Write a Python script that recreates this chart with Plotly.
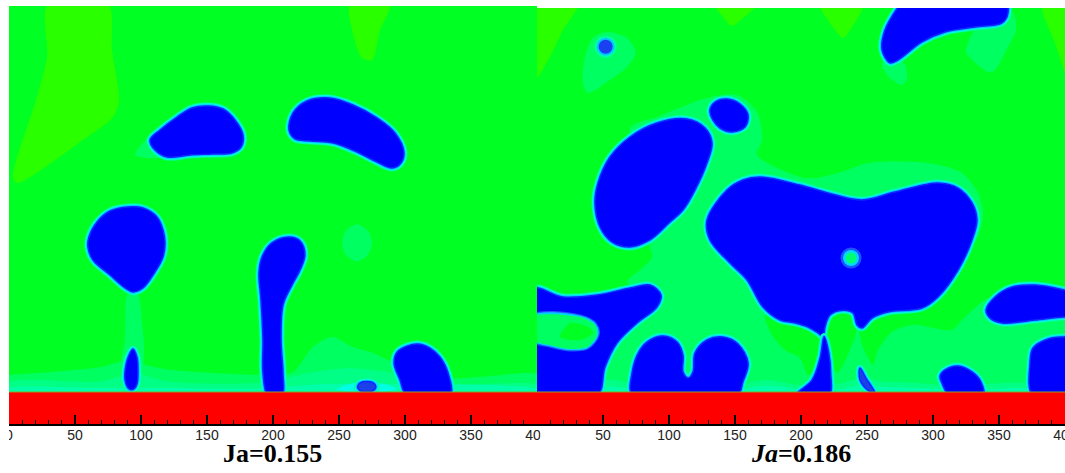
import plotly.graph_objects as go

# ---- axis labels ----
LEFT_TICKS = [0, 50, 100, 150, 200, 250, 300, 350, 400]
RIGHT_TICKS = [50, 100, 150, 200, 250, 300, 350, 400]
MINOR_TICKS = [v for v in range(0, 401, 10) if v % 50]
LEFT_TITLE = "<b>Ja=0.155</b>"
RIGHT_TITLE = "<b><i>Ja</i>=0.186</b>"

WALL_X = [0, 400, 400, 0, 0]
WALL_Y = [0, 0, -26, -26, 0]

# ---- left panel (Ja=0.155) : tinted regions, x / y ----
LD1_X = [29.5, 75, 78, 83.3, 78.8, 56, 6, 3, 21.2, 28.8]
LD1_Y = [294, 294, 259, 221.2, 208.3, 191, 158.3, 162.9, 223.5, 253.8]
LD2_X = [258.3, 288.6, 281, 275, 267.4, 260]
LD2_Y = [294, 294, 274, 251.5, 253, 274]

LL1_X = [95.5, 106.8, 114.4]
LL1_Y = [179.5, 193, 178]
LL2_X = [263.6, 272, 275, 272, 263.6, 255, 252.5, 255]
LL2_Y = [127, 122, 113, 104, 99, 104, 113, 122]
LL3_X = [90.2, 87.9, 85.6, 100.8, 100.8, 97]
LL3_Y = [75, 39.4, 19, 19, 52.3, 75]

LBA_X = [-2, 0, 70, 90, 105, 120, 190, 215, 230, 244.7, 260.6, 275.8, 292.4, 334, 356.8, 402, 402, -2]
LBA_Y = [13, 13, 19, 24, 20, 17, 13, 15, 34, 41.7, 34, 29.5, 22, 10.6, 11.4, 12.9, -1, -1]
LBB_X = [-2, 70, 95, 120, 190, 230, 257, 288, 334, 402, 402, -2]
LBB_Y = [7, 8, 14, 8, 7, 15, 18, 15, 6, 5, -1, -1]
LBC_X = [-2, 70, 120, 190, 240, 300, 402, 402, -2]
LBC_Y = [2.5, 3, 3, 2.5, 6, 6, 2, -1, -1]
LBD_X = [248, 258, 271, 284, 294, 284, 271, 258]
LBD_Y = [2, 6, 8, 6, 2, 0, -1, 0]

# ---- left panel : bubbles, x / y ----
L1_X = [106.8, 114.4, 127.3, 138.6, 150.8, 162.1, 171.2, 177.3, 175.8, 168.9, 154.5, 137.1, 119.7, 110.6]
L1_Y = [190.9, 198.5, 208.3, 215.2, 216.7, 214.4, 206.1, 194.7, 185.6, 181.1, 180.3, 179.5, 178, 183.3]
L2_X = [212.1, 215.2, 225.8, 243.2, 260.6, 278.8, 292.4, 299.2, 297, 290.2, 278.8, 263.6, 245.5, 228, 216.7]
L2_Y = [198.5, 211.4, 220.5, 222.7, 217.4, 207.6, 196.2, 181.8, 173.5, 169.7, 174.2, 181.8, 188.6, 190.2, 191.7]
L3_X = [90.2, 76.5, 66.7, 60.6, 59.8, 63.6, 76.5, 87.9, 93.9, 101.5, 110.6, 116.7, 118.2, 116.7, 112.1, 101.5]
L3_Y = [140.2, 137.1, 128.8, 117.4, 109.8, 100, 88.6, 78.8, 75.8, 78.8, 90.9, 102.3, 112.9, 122.7, 132.6, 139.4]
L4_X = [93.9, 96.9, 97.7, 97, 94.7, 90.9, 87.9, 88.6, 90.9]
L4_Y = [32.6, 26.5, 16.7, 6, 2.3, 2.3, 9, 20.5, 28]
L5_X = [196.2, 192.4, 192.4, 190.9, 189.4, 191.7, 199.2, 212.1, 220.5, 224.2, 220.5, 214.4, 207.6, 206.1, 207.6, 206.8]
L5_Y = [-3, 14.4, 39.4, 69.7, 90.2, 102.3, 112.9, 117.4, 114.4, 103.8, 92.4, 81, 65.9, 39.4, 14.4, -3]
L6_X = [301.5, 296.2, 291.7, 294.7, 309.1, 318.9, 326.5, 332.6, 334.1]
L6_Y = [-3, 9.1, 22, 31, 36.4, 33.3, 26.5, 14.4, -3]
L7_X = [264, 266, 271, 276, 278, 276, 271, 266]
L7_Y = [4, 7, 8, 7, 4, 1, 0, 1]

# ---- right panel (Ja=0.186) : tinted regions, x / y ----
RD1_X = [-2, 31, 19.7, 9.8, -2]
RD1_Y = [294, 294, 274.2, 253.8, 236]
RD2_X = [134.9, 166.7, 156, 147.7, 140.9]
RD2_Y = [294, 294, 283.3, 277.3, 284]
RD3_X = [214.4, 247, 235.6, 231.8, 225.8]
RD3_Y = [294, 294, 272, 268.2, 274.2]
RD4_X = [382.6, 402, 402, 392.4]
RD4_Y = [294, 294, 238.6, 264.4]

RL1_X = [53, 68.2, 74.7, 68.2, 53, 38.6, 34.8, 36.4, 42.4]
RL1_Y = [272.7, 268.2, 256.8, 246.2, 234.9, 226.5, 234, 253.8, 268.2]
RL2_X = [261.4, 265.9, 276.5, 280.3, 278]
RL2_Y = [249.3, 239.4, 232.6, 237.9, 249.3]
RL3_X = [326.5, 325, 341.7, 346.2, 356.8, 362.9, 360.6, 347, 331.8]
RL3_Y = [264.4, 257.6, 242.4, 243.2, 261.4, 274.2, 287.1, 281.8, 274.2]
RU_X = [70.5, 90.9, 128.8, 151.5, 166.7, 170.5, 166.7, 199.2, 210.6, 231, 250.8, 296.2, 322, 334.1, 337.9, 331.8, 275, 146.2, 115.9, 85.6, 78]
RU_Y = [200, 208.3, 222.7, 225, 212.1, 190.9, 179.5, 162.9, 162.1, 166.7, 173.5, 173.5, 165.9, 150.8, 135.6, 115.2, 107.6, 122.7, 107.6, 115.2, 160.6]
RLP_X = [85.6, 87.1, 78, 68.2, 85.6, 68.2, 40, 407, 407, 381, 372, 347, 337.1, 322, 314.4, 284.1, 268.9, 258.3, 254.6, 246.2, 243.2, 199.2, 153.8]
RLP_Y = [115.2, 102.3, 92.4, 83.3, 69.7, 47, -1, -1, 75.8, 81.8, 81, 73.5, 68.2, 54.5, 47, 50.8, 45.5, 31.8, 20.5, 35.6, 47, 84.9, 107.6]

RP1_X = [172.7, 178, 187.9, 199.2, 205.3, 210.6, 218.2, 212.9, 199.2, 184.1]
RP1_Y = [58.3, 43.2, 31.8, 25.8, 12.9, 16.7, 35.6, 44.7, 53, 56]
RP2_X = [220.5, 228, 237.1, 242.4, 237.1, 227.3, 222]
RP2_Y = [49.2, 60.6, 59.8, 49.2, 31.8, 14.4, 29.5]

RBA_X = [-2, 60, 75, 90, 150, 160, 175, 200, 228, 245, 262, 285, 310, 340, 360, 402, 402, -2]
RBA_Y = [3, 9, 4, 2, 3, 7, 9, 5, 6, 10, 8, 7, 5, 6, 7, 5, -1, -1]
RBB_X = [-2, 60, 75, 150, 160, 175, 200, 228, 245, 262, 285, 340, 360, 402, 402, -2]
RBB_Y = [1, 4, 2, 1, 3, 5, 2, 2, 5, 4, 3, 2, 3, 2, -1, -1]

# ---- right panel : bubbles, x / y ----
R2_X = [131, 134.9, 143.9, 153.8, 159.9, 157.6, 147.7, 138.6, 133.3]
R2_Y = [213.6, 219.7, 222, 218.2, 209.9, 200.8, 197, 200, 206]
R3_X = [113.6, 90.9, 70.5, 55.3, 46.2, 43.9, 47.7, 56.8, 70.5, 85.6, 100.8, 110.6, 119.7, 128.8, 132.6, 127.3]
R3_Y = [206.8, 203.8, 193.2, 178, 158.3, 143.2, 125, 113.6, 109.9, 115.2, 128.8, 137.9, 153, 173.5, 188.6, 200]
R4_X = [128.8, 143.9, 156, 168.9, 199.2, 220.5, 246.2, 271.2, 303.8, 319, 329.6, 333.3, 329.6, 319, 303.8, 291.7, 265.9, 253.8, 246.2, 242.4, 239.4, 231.8, 222, 218.2, 216.7, 212.9, 205.3, 195.5, 184.1, 171.2, 159.1, 146.2, 131]
R4_Y = [130.3, 153, 160.6, 162.9, 156.8, 150.8, 145.5, 151.5, 158.3, 154.5, 143.2, 130.3, 115.2, 92.4, 72, 63.6, 60.6, 56, 48.5, 50.8, 59.8, 62, 58.3, 49.2, 41.7, 44.7, 49.2, 52.3, 54.5, 64.4, 84.9, 97.7, 115.2]
R5_X = [217.5, 221, 222.5, 221, 195.5, 208.3, 214.5]
R5_Y = [42, 30, 14.4, -3, -3, 9, 26]
R6_X = [267.4, 261.4, 263.6, 273.5, 278.8, 354.6, 356.8, 352.3, 331.8, 309.1, 291.7, 273.5]
R6_Y = [249.3, 259.1, 274.2, 291.7, 298.5, 298.5, 287.1, 279.6, 276.5, 272.7, 265.2, 251.5]
R7_X = [-4, 19.7, 45.5, 70.5, 85.6, 93.9, 90.9, 75.8, 60.6, 51.5, 45.5, -4]
R7_Y = [78, 72, 73.5, 78.8, 81, 73.5, 64.4, 52.3, 37.1, 18.9, -3, -3]
R7C_X = [-4, 32.6, 43.9, 45.5, 37.9, 25, 9.8, -4]
R7C_Y = [56.8, 56.8, 50.8, 43.2, 34, 32.6, 35.6, 40]
R7P_X = [17.4, 25, 40.2, 42.4, 32.6]
R7P_Y = [41.7, 52.3, 48.5, 44.7, 39.4]
R8_X = [72.7, 72, 78, 85.6, 95.5, 106.1, 110.6, 110.6, 114.4, 118.2, 119.7, 128.8, 140.9, 152.3, 159.9, 156, 151.5]
R8_Y = [-3, 14.4, 31.8, 39.4, 42.4, 37.9, 28, 15.2, 10.6, 15.2, 29.5, 39.4, 41.7, 36.4, 22, 7.6, -3]
R9_X = [244.7, 249.2, 256, 251.5, 244.7]
R9_Y = [18.2, 10.6, -0.8, 0.8, 9.1]
R10_X = [306.8, 305.3, 309.1, 319, 329.6, 336.4, 337.9, 312.9]
R10_Y = [6.8, 12.1, 16.7, 19.7, 15.2, 7.6, -3, -3]
R11_X = [340.2, 347, 359.9, 377.3, 399.3, 407.6, 407.6, 399.3, 377.3, 352.3, 343.2]
R11_Y = [62.1, 72, 79.5, 81, 77.3, 75, 56, 56.8, 54.5, 52.3, 56]
R12_X = [375.8, 373.5, 375.8, 387.1, 399.3, 407.6, 407.6]
R12_Y = [-3, 22, 33.3, 40.2, 41.7, 41.7, -3]

# small round bubble and the small hole in the big bubble
DOT_X = [52]
DOT_Y = [261.6]
HOLE_X = [237.9]
HOLE_Y = [101.5]

# ---- colours ----
BG = "#00ff22"
DARK = "#2aff00"
LIGHT = "#00ff60"
BAND2 = "#00ff84"
BAND3 = "#00ffa8"
BAND4 = "#00ffe4"
BLUE = "#0000ff"
HALO = [(7, "#00ff90"), (5.5, "#00ffd8"), (3.5, "#00c8ff")]
EDGE = "#0c28ff"

fig = go.Figure()


def closed(v):
    return list(v) + [v[0]]


def region(x, y, color, xa, ya):
    fig.add_trace(go.Scatter(x=closed(x), y=closed(y), xaxis=xa, yaxis=ya, mode="lines", fill="toself",
                             fillcolor=color, line=dict(width=0, color=color, shape="spline", smoothing=0.8),
                             hoverinfo="skip", showlegend=False))


def bubble(x, y, xa, ya, core=BLUE, smooth=1.0):
    for w, c in HALO:
        fig.add_trace(go.Scatter(x=closed(x), y=closed(y), xaxis=xa, yaxis=ya, mode="lines",
                                 line=dict(width=w, color=c, shape="spline", smoothing=smooth),
                                 hoverinfo="skip", showlegend=False))
    fig.add_trace(go.Scatter(x=closed(x), y=closed(y), xaxis=xa, yaxis=ya, mode="lines", fill="toself",
                             fillcolor=core, line=dict(width=1.5, color=EDGE, shape="spline", smoothing=smooth),
                             hoverinfo="skip", showlegend=False))


def cutout(x, y, xa, ya):
    for w, c in [(5, "#1a55ff"), (2.5, "#00d0ff")]:
        fig.add_trace(go.Scatter(x=closed(x), y=closed(y), xaxis=xa, yaxis=ya, mode="lines",
                                 line=dict(width=w, color=c, shape="spline"), hoverinfo="skip", showlegend=False))
    region(x, y, LIGHT, xa, ya)


def wall(xa, ya):
    fig.add_trace(go.Scatter(x=WALL_X, y=WALL_Y, xaxis=xa, yaxis=ya, mode="lines", fill="toself",
                             fillcolor="#ff0000", line=dict(width=0, color="#ff0000"),
                             hoverinfo="skip", showlegend=False))
    fig.add_trace(go.Scatter(x=WALL_X[:2], y=WALL_Y[:2], xaxis=xa, yaxis=ya, mode="lines",
                             line=dict(width=1, color="#90a020"), hoverinfo="skip", showlegend=False))


def dots(x, y, sizes, xa, ya):
    for s, c in sizes:
        fig.add_trace(go.Scatter(x=x, y=y, xaxis=xa, yaxis=ya, mode="markers",
                                 marker=dict(size=s, color=c, line=dict(width=0)),
                                 hoverinfo="skip", showlegend=False))


# left panel
for rx, ry in [(LD1_X, LD1_Y), (LD2_X, LD2_Y)]:
    region(rx, ry, DARK, "x", "y")
for rx, ry in [(LL1_X, LL1_Y), (LL2_X, LL2_Y), (LL3_X, LL3_Y), (LBA_X, LBA_Y)]:
    region(rx, ry, LIGHT, "x", "y")
region(LBB_X, LBB_Y, BAND2, "x", "y")
region(LBC_X, LBC_Y, BAND3, "x", "y")
region(LBD_X, LBD_Y, BAND4, "x", "y")
for bx, by in [(L1_X, L1_Y), (L2_X, L2_Y), (L3_X, L3_Y), (L4_X, L4_Y), (L5_X, L5_Y), (L6_X, L6_Y)]:
    bubble(bx, by, "x", "y")
bubble(L7_X, L7_Y, "x", "y", core="#1c40e8")
wall("x", "y")

# right panel
for rx, ry in [(RD1_X, RD1_Y), (RD2_X, RD2_Y), (RD3_X, RD3_Y), (RD4_X, RD4_Y)]:
    region(rx, ry, DARK, "x2", "y2")
for rx, ry in [(RL1_X, RL1_Y), (RL2_X, RL2_Y), (RL3_X, RL3_Y), (RU_X, RU_Y), (RLP_X, RLP_Y)]:
    region(rx, ry, LIGHT, "x2", "y2")
for rx, ry in [(RP1_X, RP1_Y), (RP2_X, RP2_Y)]:
    region(rx, ry, BG, "x2", "y2")
region(RBA_X, RBA_Y, BAND2, "x2", "y2")
region(RBB_X, RBB_Y, BAND3, "x2", "y2")
for bx, by in [(R2_X, R2_Y), (R3_X, R3_Y), (R4_X, R4_Y), (R5_X, R5_Y), (R6_X, R6_Y), (R7_X, R7_Y),
               (R8_X, R8_Y), (R10_X, R10_Y), (R11_X, R11_Y), (R12_X, R12_Y)]:
    bubble(bx, by, "x2", "y2")
bubble(R9_X, R9_Y, "x2", "y2", core="#1c40e8")
cutout(R7C_X, R7C_Y, "x2", "y2")
region(R7P_X, R7P_Y, BG, "x2", "y2")
dots(DOT_X, DOT_Y, [(22, "#00ffa0"), (18, "#00c8ff"), (14, "#1a40f0")], "x2", "y2")
dots(HOLE_X, HOLE_Y, [(21, "#1a55ff"), (16, "#00d8ff"), (11, "#00ff70")], "x2", "y2")
wall("x2", "y2")

W, H = 1065, 473
PX = lambda p: p / W
PY = lambda p: 1 - p / H


def xaxis(dom, ticks):
    return dict(domain=dom, range=[0, 400], tickmode="array", tickvals=ticks, ticktext=[str(t) for t in ticks],
                ticks="inside", ticklen=9, tickwidth=2, tickcolor="#000", showline=True, linewidth=2,
                linecolor="#000", showgrid=False, zeroline=False, tickangle=0, automargin=False,
                ticklabeloverflow="allow", ticklabelstandoff=-3,
                tickfont=dict(family="Liberation Sans, Arial, sans-serif", size=14, color="#222"),
                minor=dict(tickmode="array", tickvals=MINOR_TICKS, ticks="inside", ticklen=4, tickwidth=1,
                           tickcolor="#000", showgrid=False),
                fixedrange=True)


def yaxis(top_px, anchor):
    return dict(domain=[PY(424), PY(top_px)], range=[-32 / 1.32, (392 - top_px) / 1.32], visible=False,
                fixedrange=True, anchor=anchor, automargin=False)


TITLE_FONT = dict(family="Liberation Serif, Times New Roman, serif", size=26, color="#000")

fig.update_layout(
    width=W, height=H, margin=dict(l=0, r=0, t=0, b=0, pad=0), autosize=False,
    paper_bgcolor="#ffffff", plot_bgcolor=BG, showlegend=False, hovermode=False,
    xaxis=dict(xaxis([PX(9), PX(537)], LEFT_TICKS), anchor="y"),
    xaxis2=dict(xaxis([PX(537), PX(1065)], RIGHT_TICKS), anchor="y2"),
    yaxis=yaxis(6, "x"),
    yaxis2=yaxis(8, "x2"),
    annotations=[
        dict(text=LEFT_TITLE, xref="paper", yref="paper", x=PX(272), y=PY(453), showarrow=False,
             xanchor="center", yanchor="middle", font=TITLE_FONT),
        dict(text=RIGHT_TITLE, xref="paper", yref="paper", x=PX(801), y=PY(453), showarrow=False,
             xanchor="center", yanchor="middle", font=TITLE_FONT),
    ],
    shapes=[
        dict(type="rect", xref="paper", yref="paper", x0=0, x1=PX(9), y0=PY(444), y1=PY(426), layer="above",
             fillcolor="#fff", line=dict(width=0)),
        dict(type="rect", xref="paper", yref="paper", x0=PX(540.5), x1=PX(551), y0=PY(444), y1=PY(426),
             layer="above", fillcolor="#fff", line=dict(width=0)),
    ],
)

fig.write_html("out.html", config=dict(displayModeBar=False),
               post_script="document.body.style.margin='0';document.documentElement.style.overflow='hidden';")
